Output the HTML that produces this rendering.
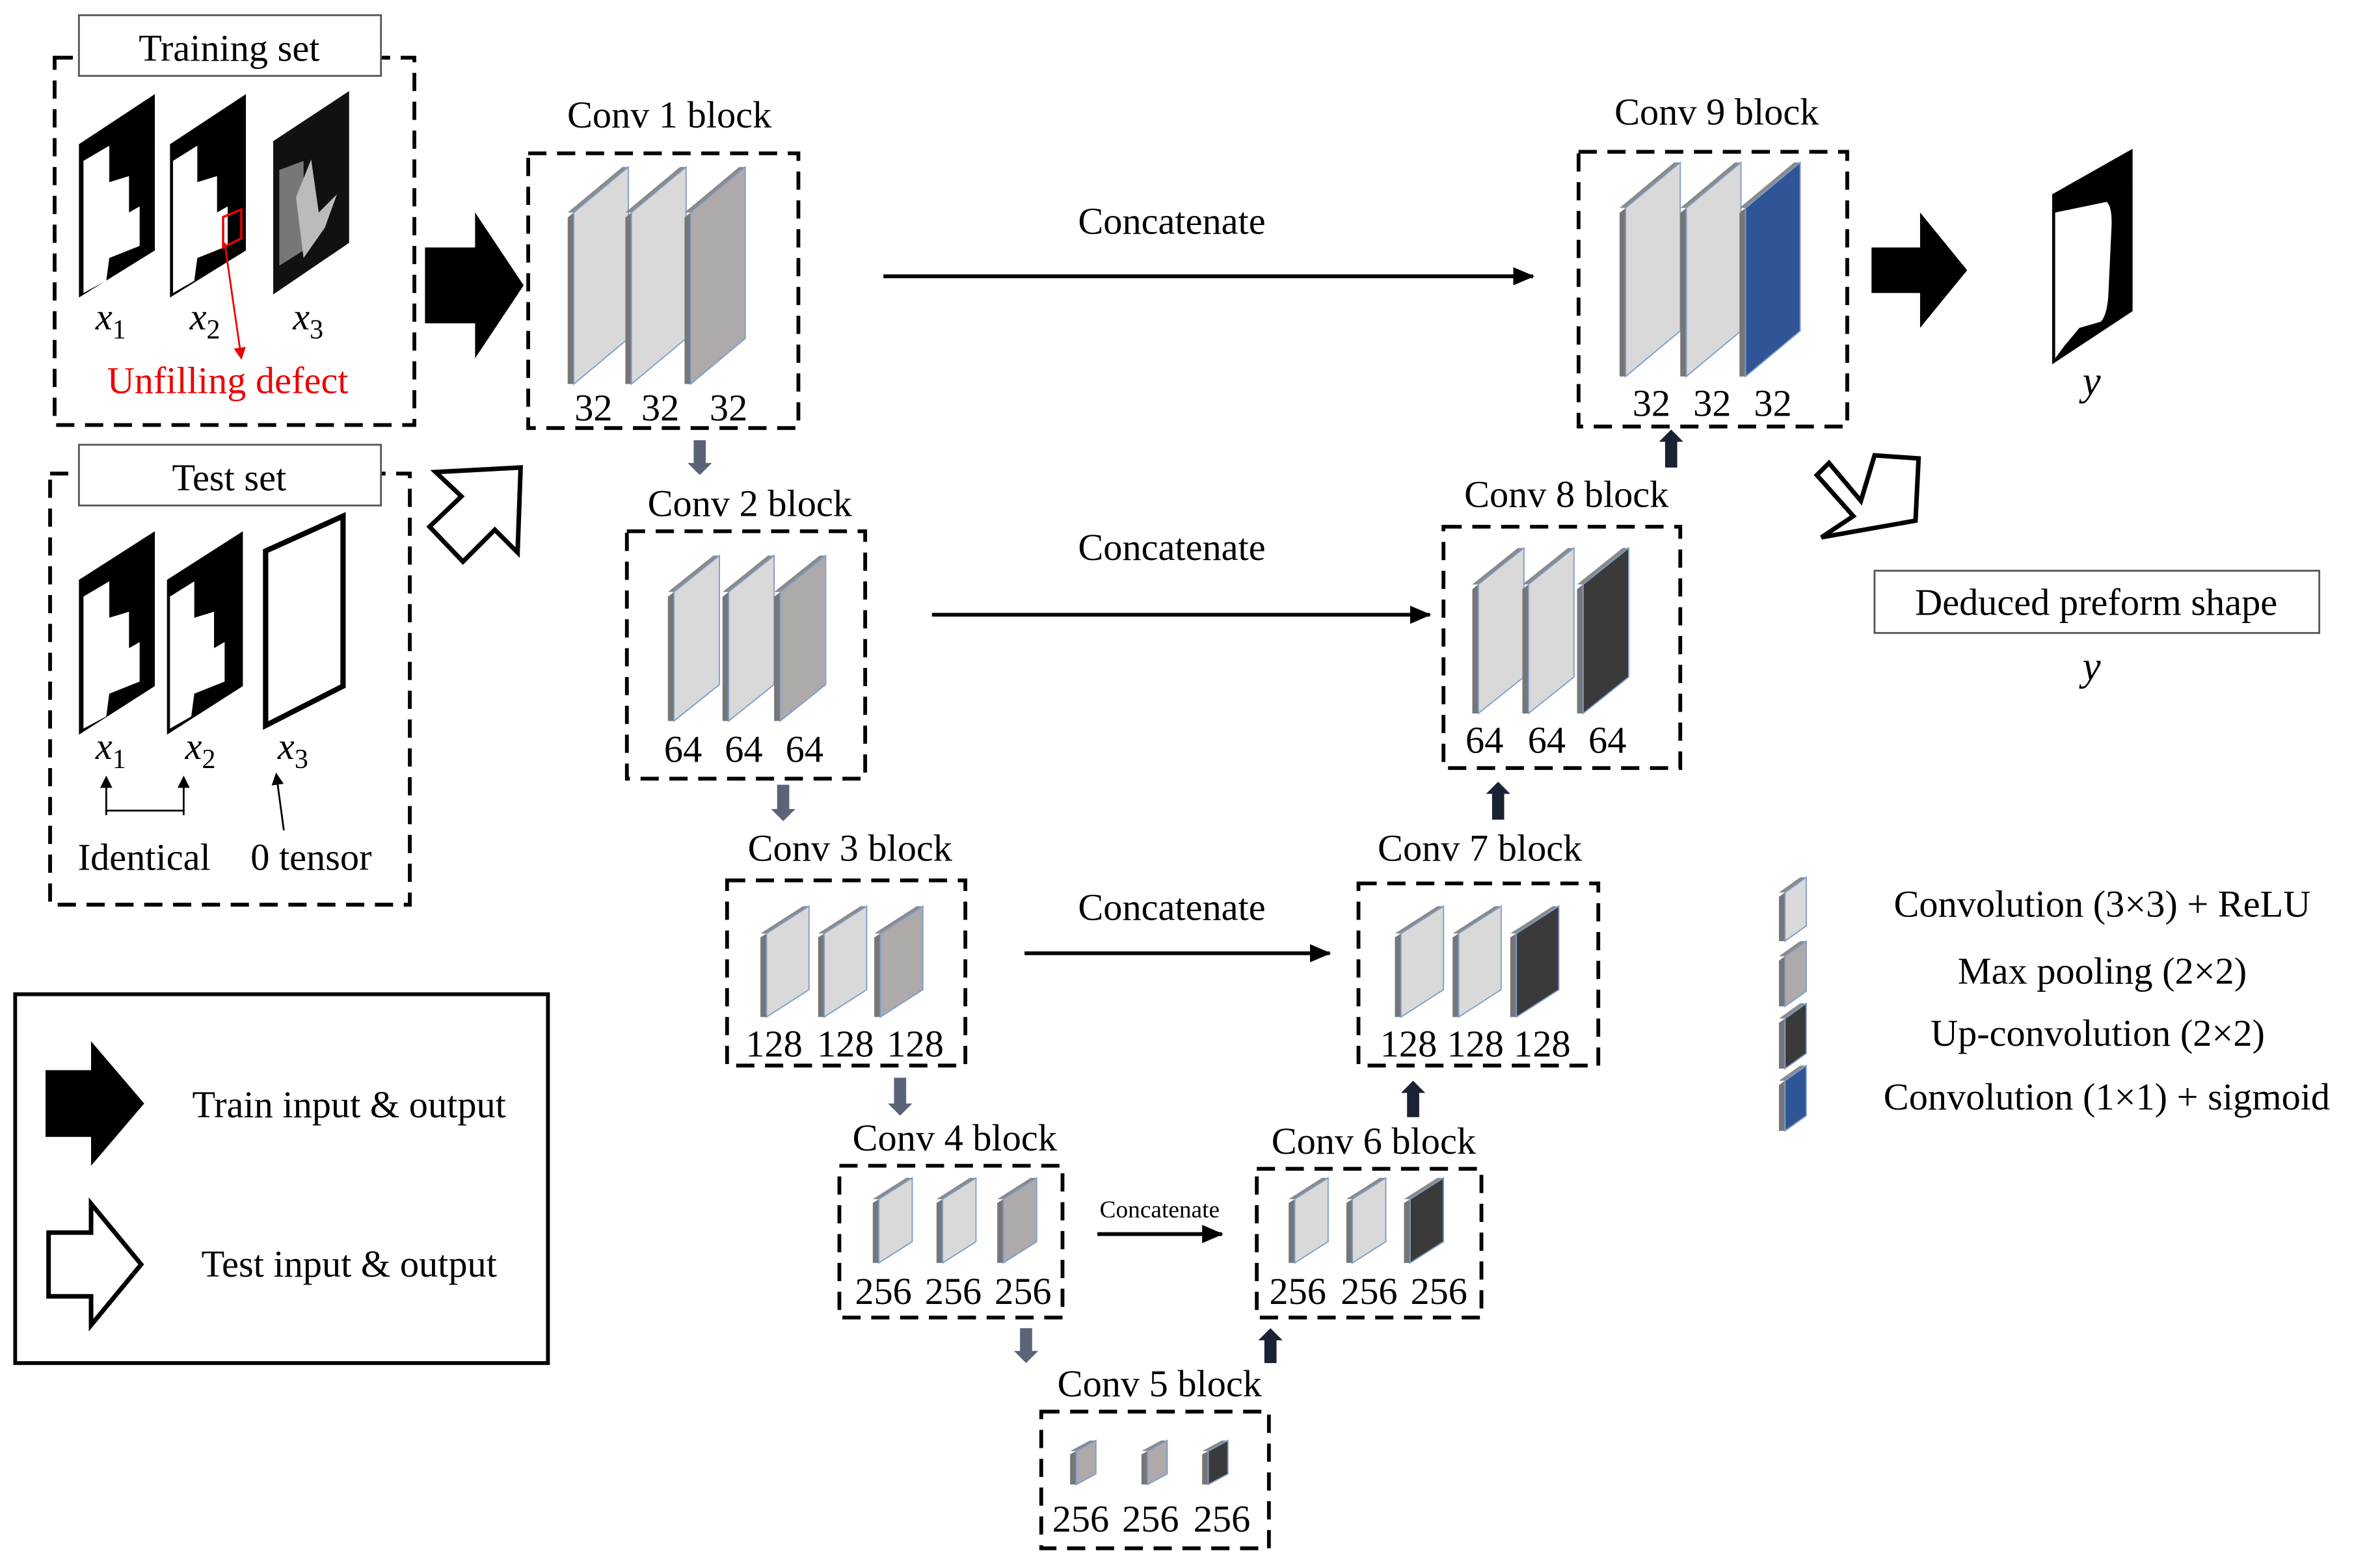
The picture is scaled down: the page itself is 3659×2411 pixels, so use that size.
<!DOCTYPE html>
<html><head><meta charset="utf-8"><style>
html,body{margin:0;padding:0;background:#fff}
svg{display:block}
text{font-family:"Liberation Serif",serif;fill:#000}
</style></head><body>
<svg id="s" width="3659" height="2411" viewBox="0 0 1568 1033" preserveAspectRatio="none" xmlns="http://www.w3.org/2000/svg">
<defs>
<marker id="ah" markerWidth="8" markerHeight="8" refX="7" refY="4" orient="auto" markerUnits="userSpaceOnUse"><path d="M0,0 L8,4 L0,8 z" fill="#000"/></marker>
<marker id="ahs" markerWidth="14" markerHeight="12" refX="13" refY="6" orient="auto" markerUnits="userSpaceOnUse"><path d="M0,0 L14,6 L0,12 z" fill="#000"/></marker>
<marker id="ahr" markerWidth="8" markerHeight="8" refX="7" refY="4" orient="auto" markerUnits="userSpaceOnUse"><path d="M0,0 L8,4 L0,8 z" fill="#e00"/></marker>
</defs>
<g id="g"></g>
<!-- Left: training set -->
<rect x="36" y="38" width="237" height="242" fill="none" stroke="#000" stroke-width="2.5" stroke-dasharray="12,7"/>
<rect x="52" y="10" width="199" height="40" fill="#fff" stroke="#555" stroke-width="1.2"/>
<text x="151" y="40" font-size="25" text-anchor="middle">Training set</text>
<polygon points="52,95 102,62 102,165 52,196" fill="#000"/>
<polygon points="55,106 72,96 72,120 85,116 85,140 92,136 92,162 72,170 70,185 55,193" fill="#fff"/>
<polygon points="112,95 162,62 162,165 112,196" fill="#000"/>
<polygon points="114,106 130,96 130,120 143,116 143,140 150,136 150,162 130,170 128,185 114,193" fill="#fff"/>
<polygon points="147,143 159,138 159,157 147,163" fill="none" stroke="#e00" stroke-width="1.5"/>
<line x1="148" y1="160" x2="159" y2="236" stroke="#e00" stroke-width="1.2" marker-end="url(#ahr)"/>
<polygon points="180,93 230,60 230,160 180,194" fill="#111"/>
<polygon points="184,112 200,106 200,165 184,175" fill="#777"/>
<path d="M195,130 L205,105 L210,140 L222,128 L214,150 L200,170 Z" fill="#bbb"/>
<text x="73" y="217" font-size="25" text-anchor="middle"><tspan font-style="italic">x</tspan><tspan font-size="18" dy="6">1</tspan></text>
<text x="135" y="217" font-size="25" text-anchor="middle"><tspan font-style="italic">x</tspan><tspan font-size="18" dy="6">2</tspan></text>
<text x="203" y="217" font-size="25" text-anchor="middle"><tspan font-style="italic">x</tspan><tspan font-size="18" dy="6">3</tspan></text>
<text x="150" y="259" font-size="25" text-anchor="middle" style="fill:#e00">Unfilling defect</text>
<!-- Test set -->
<rect x="33" y="312" width="237" height="284" fill="none" stroke="#000" stroke-width="2.5" stroke-dasharray="12,7"/>
<rect x="52" y="293" width="199" height="40" fill="#fff" stroke="#555" stroke-width="1.2"/>
<text x="151" y="323" font-size="25" text-anchor="middle">Test set</text>
<polygon points="52,382 102,350 102,452 52,484" fill="#000"/>
<polygon points="55,393 72,383 72,407 85,403 85,427 92,423 92,449 72,457 70,472 55,480" fill="#fff"/>
<polygon points="110,382 160,350 160,452 110,484" fill="#000"/>
<polygon points="112,393 128,383 128,407 141,403 141,427 148,423 148,449 128,457 126,472 112,480" fill="#fff"/>
<polygon points="175,363 226,340 226,452 175,478" fill="#fff" stroke="#000" stroke-width="3.5"/>
<text x="73" y="500" font-size="25" text-anchor="middle"><tspan font-style="italic">x</tspan><tspan font-size="18" dy="6">1</tspan></text>
<text x="132" y="500" font-size="25" text-anchor="middle"><tspan font-style="italic">x</tspan><tspan font-size="18" dy="6">2</tspan></text>
<text x="193" y="500" font-size="25" text-anchor="middle"><tspan font-style="italic">x</tspan><tspan font-size="18" dy="6">3</tspan></text>
<path d="M70,537 L70,534 L121,534 L121,537" fill="none" stroke="#000" stroke-width="1.2"/>
<line x1="70" y1="534" x2="70" y2="512" stroke="#000" stroke-width="1.2" marker-end="url(#ah)"/>
<line x1="121" y1="534" x2="121" y2="512" stroke="#000" stroke-width="1.2" marker-end="url(#ah)"/>
<line x1="187" y1="547" x2="182" y2="510" stroke="#000" stroke-width="1.2" marker-end="url(#ah)"/>
<text x="95" y="573" font-size="25" text-anchor="middle">Identical</text>
<text x="205" y="573" font-size="25" text-anchor="middle">0 tensor</text>
<!-- big arrows left -->
<polygon points="280,163 313,163 313,140 345,188 313,236 313,213 280,213" fill="#000"/>
<polygon points="283,347 304,327 287,311 343,308 341,364 326,349 305,370" fill="#fff" stroke="#000" stroke-width="3"/>
<!-- right arrows -->
<polygon points="1233,163 1265,163 1265,140 1296,178 1265,216 1265,193 1233,193" fill="#000"/>
<polygon points="1205,305 1226,330 1235,300 1264,302 1262,343 1200,354 1221,340 1197,313" fill="#fff" stroke="#000" stroke-width="3"/>
<!-- output -->
<polygon points="1352,128 1405,98 1405,205 1352,240" fill="#000"/>
<path d="M1354,140 L1388,133 Q1392,137 1391,152 L1389,195 Q1388,208 1384,212 L1370,216 L1360,228 L1354,236 Z" fill="#fff"/>
<text x="1378" y="260" font-size="27" font-style="italic" text-anchor="middle">y</text>
<rect x="1235" y="376" width="293" height="41" fill="#fff" stroke="#555" stroke-width="1.2"/>
<text x="1381" y="405" font-size="25" text-anchor="middle">Deduced preform shape</text>
<text x="1378" y="448" font-size="27" font-style="italic" text-anchor="middle">y</text>
<!-- legend -->
<rect x="10" y="655" width="351" height="243" fill="none" stroke="#000" stroke-width="2.5"/>
<polygon points="30,705 60,705 60,686 95,727 60,768 60,749 30,749" fill="#000"/>
<polygon points="32,812 60,812 60,793 93,833 60,873 60,854 32,854" fill="#fff" stroke="#000" stroke-width="3"/>
<text x="230" y="736" font-size="25" text-anchor="middle">Train input &amp; output</text>
<text x="230" y="841" font-size="25" text-anchor="middle">Test input &amp; output</text>
<text x="1385" y="604" font-size="25" text-anchor="middle">Convolution (3×3) + ReLU</text>
<text x="1385" y="648" font-size="25" text-anchor="middle">Max pooling (2×2)</text>
<text x="1382" y="689" font-size="25" text-anchor="middle">Up-convolution (2×2)</text>
<text x="1388" y="731" font-size="25" text-anchor="middle">Convolution (1×1) + sigmoid</text>
</svg>
<script>
var g=document.getElementById('g'),h='';
function plate(x,y1,y2,w,d,fill){
  var e=4;
  h+='<polygon points="'+(x-e)+','+(y1+e*d/w)+' '+x+','+y1+' '+x+','+y2+' '+(x-e)+','+y2+'" fill="#767676"/>';
  h+='<polygon points="'+(x-e)+','+(y1)+' '+(x+w-e)+','+(y1-d)+' '+(x+w)+','+(y1-d)+' '+x+','+y1+'" fill="#8a8a8a"/>';
  h+='<polygon points="'+x+','+y1+' '+(x+w)+','+(y1-d)+' '+(x+w)+','+(y2-d)+' '+x+','+y2+'" fill="'+fill+'" stroke="#7f9ccc" stroke-width="0.8"/>';
}
function box(x,y,w,hh,title,tx,ty){
  h+='<rect x="'+x+'" y="'+y+'" width="'+w+'" height="'+hh+'" fill="none" stroke="#000" stroke-width="2.5" stroke-dasharray="12,7"/>';
  h+='<text x="'+tx+'" y="'+ty+'" font-size="25" text-anchor="middle">'+title+'</text>';
}
function labels(arr,y,t,fs){arr.forEach(function(x){h+='<text x="'+x+'" y="'+y+'" font-size="'+(fs||25)+'" text-anchor="middle">'+t+'</text>';});}
var L='#d9d9d9',M='#aeaaaa',D='#3a3a3a',B='#2f5597';
box(348,101,178,181,'Conv 1 block',441,84);
plate(378,140,253,36,30,L);plate(416,140,253,36,30,L);plate(455,140,253,36,30,M);
labels([391,435,480],277,'32');
box(413,350,157,163,'Conv 2 block',494,340);
plate(444,390,475,30,24,L);plate(480,390,475,30,24,L);plate(514,390,475,30,24,M);
labels([450,490,530],502,'64');
box(479,580,157,122,'Conv 3 block',560,567);
plate(505,615,670,28,18,L);plate(543,615,670,28,18,L);plate(580,615,670,28,18,M);
labels([510,557,603],696,'128');
box(553,768,147,100,'Conv 4 block',629,758);
plate(579,790,832,22,14,L);plate(621,790,832,22,14,L);plate(661,790,832,22,14,M);
labels([582,628,674],859,'256');
box(686,930,150,90,'Conv 5 block',764,920);
plate(709,956,978,13,7,M);plate(756,956,978,13,7,M);plate(796,956,978,13,7,D);
labels([712,758,805],1009,'256');
box(828,770,148,98,'Conv 6 block',905,760);
plate(853,790,832,22,14,L);plate(891,790,832,22,14,L);plate(929,790,832,22,14,D);
labels([855,902,948],859,'256');
box(895,582,158,120,'Conv 7 block',975,567);
plate(923,615,670,28,18,L);plate(961,615,670,28,18,L);plate(999,615,670,28,18,D);
labels([928,972,1016],696,'128');
box(951,347,156,159,'Conv 8 block',1032,334);
plate(974,385,470,30,24,L);plate(1007,385,470,30,24,L);plate(1043,385,470,30,24,D);
labels([978,1019,1059],496,'64');
box(1040,100,177,181,'Conv 9 block',1131,82);
plate(1071,137,248,36,30,L);plate(1111,137,248,36,30,L);plate(1150,137,248,36,30,B);
labels([1088,1128,1168],274,'32');
function concat(x1,x2,y,tx,ty,fs){
  h+='<line x1="'+x1+'" y1="'+y+'" x2="'+x2+'" y2="'+y+'" stroke="#000" stroke-width="2.5" marker-end="url(#ahs)"/>';
  h+='<text x="'+tx+'" y="'+ty+'" font-size="'+fs+'" text-anchor="middle">Concatenate</text>';
}
concat(582,1010,182,772,154,25);concat(614,942,405,772,369,25);concat(675,876,628,772,606,25);concat(723,805,813,764,802,16);
function darr(x,y1,y2,col,up){
  var hw=4,aw=8,hl=8;
  if(!up){h+='<polygon points="'+(x-hw)+','+y1+' '+(x+hw)+','+y1+' '+(x+hw)+','+(y2-hl)+' '+(x+aw)+','+(y2-hl)+' '+x+','+y2+' '+(x-aw)+','+(y2-hl)+' '+(x-hw)+','+(y2-hl)+'" fill="'+col+'"/>';}
  else{h+='<polygon points="'+(x-hw)+','+y2+' '+(x+hw)+','+y2+' '+(x+hw)+','+(y1+hl)+' '+(x+aw)+','+(y1+hl)+' '+x+','+y1+' '+(x-aw)+','+(y1+hl)+' '+(x-hw)+','+(y1+hl)+'" fill="'+col+'"/>';}
}
var G='#5a6378',K='#1a2233';
darr(461,290,313,G);darr(516,517,541,G);darr(593,710,735,G);darr(676,875,898,G);
darr(837,875,898,K,1);darr(931,712,736,K,1);darr(987,515,540,K,1);darr(1101,283,308,K,1);
plate(1176,588,620,14,10,L);plate(1176,630,663,14,10,M);plate(1176,671,704,14,10,D);plate(1176,712,745,14,10,B);
g.innerHTML=h;
</script>
</body></html>
